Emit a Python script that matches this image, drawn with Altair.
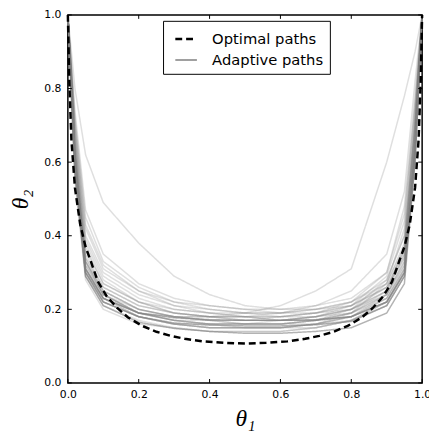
import altair as alt
import pandas as pd

# ---------------- data ----------------
opt_x = [0.0, 0.004, 0.01, 0.02, 0.035, 0.05, 0.065, 0.085, 0.11, 0.14, 0.17, 0.21, 0.25, 0.29, 0.33, 0.38, 0.44, 0.5,
         0.56, 0.62, 0.67, 0.71, 0.75, 0.79, 0.83, 0.86, 0.89, 0.915, 0.935, 0.95, 0.965, 0.98, 0.99, 0.996, 1.0]
opt_y = [1.0, 0.82, 0.66, 0.53, 0.43, 0.37, 0.33, 0.275, 0.235, 0.203, 0.178, 0.155, 0.139, 0.128, 0.12, 0.113, 0.109, 0.107,
         0.109, 0.113, 0.12, 0.128, 0.139, 0.155, 0.178, 0.203, 0.235, 0.275, 0.33, 0.37, 0.43, 0.53, 0.66, 0.82, 1.0]

grid_x = [0.0, 0.02, 0.05, 0.1, 0.2, 0.3, 0.4, 0.5, 0.6, 0.7, 0.8, 0.9, 0.95, 0.98, 1.0]

light_paths = [
    [1, .80, .62, .49, .38, .29, .24, .21, .20, .20, .21, .26, .36, .70, 1],
    [1, .62, .33, .24, .19, .18, .18, .19, .21, .25, .31, .60, .78, .90, 1],
    [1, .70, .42, .31, .25, .22, .21, .20, .20, .21, .23, .30, .46, .76, 1],
    [1, .66, .37, .27, .22, .20, .19, .19, .19, .20, .22, .28, .40, .70, 1],
    [1, .60, .31, .24, .19, .17, .16, .16, .16, .17, .19, .24, .33, .65, 1],
    [1, .64, .34, .26, .21, .19, .18, .17, .17, .18, .20, .25, .35, .68, 1],
    [1, .58, .30, .22, .18, .16, .15, .15, .15, .16, .18, .23, .31, .62, 1],
    [1, .68, .39, .29, .23, .20, .19, .18, .18, .19, .21, .27, .38, .72, 1],
    [1, .63, .33, .25, .20, .18, .17, .17, .18, .19, .21, .26, .34, .66, 1],
    [1, .56, .29, .21, .17, .15, .14, .14, .14, .15, .17, .22, .30, .60, 1],
    [1, .72, .45, .33, .26, .22, .20, .19, .18, .18, .19, .24, .33, .66, 1],
    [1, .61, .32, .24, .20, .18, .17, .16, .16, .17, .19, .25, .37, .70, 1],
    [1, .65, .35, .26, .21, .19, .18, .18, .17, .17, .18, .22, .30, .63, 1],
    [1, .59, .30, .23, .19, .17, .16, .15, .15, .16, .18, .24, .34, .67, 1],
    [1, .67, .38, .28, .22, .19, .18, .17, .17, .18, .21, .29, .44, .75, 1],
    [1, .62, .32, .24, .19, .17, .17, .17, .17, .18, .20, .26, .36, .69, 1],
    [1, .57, .29, .22, .18, .16, .15, .15, .15, .16, .19, .27, .42, .74, 1],
    [1, .74, .47, .35, .27, .23, .21, .20, .19, .19, .20, .24, .32, .64, 1],
    [1, .60, .31, .23, .19, .17, .16, .16, .17, .18, .20, .25, .35, .68, 1],
    [1, .69, .40, .30, .24, .21, .20, .19, .19, .20, .22, .27, .37, .70, 1],
    [1, .63, .33, .25, .20, .18, .17, .16, .16, .16, .17, .21, .29, .61, 1],
    [1, .58, .30, .22, .18, .16, .16, .16, .16, .17, .19, .23, .32, .64, 1],
    [1, .66, .36, .27, .22, .19, .18, .18, .18, .19, .22, .30, .48, .78, 1],
    [1, .61, .31, .23, .18, .16, .15, .15, .15, .15, .17, .22, .31, .63, 1],
    [1, .64, .34, .25, .20, .18, .17, .17, .17, .17, .18, .23, .31, .64, 1],
    [1, .55, .28, .20, .16, .15, .14, .14, .14, .15, .17, .21, .29, .60, 1],
    [1, .71, .43, .32, .25, .21, .19, .18, .17, .17, .18, .22, .30, .62, 1],
    [1, .60, .30, .23, .19, .18, .18, .18, .19, .21, .25, .35, .52, .82, 1],
    [1, .62, .33, .24, .19, .17, .16, .16, .16, .17, .20, .28, .40, .72, 1],
    [1, .59, .31, .23, .18, .16, .15, .15, .15, .16, .18, .22, .30, .62, 1],
]

dark_paths = [
    [1, .57, .29, .21, .165, .148, .14, .135, .135, .14, .15, .19, .27, .60, 1],
    [1, .60, .30, .22, .18, .163, .157, .155, .155, .158, .167, .21, .29, .63, 1],
    [1, .62, .31, .23, .19, .177, .172, .17, .17, .172, .18, .22, .30, .64, 1],
]

series_names = ["Optimal paths", "Adaptive paths"]
tick_vals = [0.0, 0.2, 0.4, 0.6, 0.8, 1.0]

# ---------------- tables ----------------
rows = []
for i, ys in enumerate(light_paths):
    for xv, yv in zip(grid_x, ys):
        rows.append({"x": xv, "y": yv, "path": f"a{i}", "series": "Adaptive paths", "op": 0.25})
for i, ys in enumerate(dark_paths):
    for xv, yv in zip(grid_x, ys):
        rows.append({"x": xv, "y": yv, "path": f"d{i}", "series": "Adaptive paths", "op": 0.6})
adaptive_df = pd.DataFrame(rows)
optimal_df = pd.DataFrame({"x": opt_x, "y": opt_y, "path": "opt", "series": "Optimal paths", "op": 1.0})
ticks_df = pd.DataFrame({"x": tick_vals, "y": tick_vals})

W, H = 361, 375
XT = "θ₁"
YT = "θ₂"

xscale = alt.Scale(domain=[0, 1], nice=False, zero=False)
yscale = alt.Scale(domain=[0, 1], nice=False, zero=False)

x_axis = alt.Axis(values=tick_vals, format=".1f", ticks=False, domain=False, grid=False,
                  labelPadding=6, labelFlush=False, labelOverlap=False, labelBound=False,
                  labelFont="DejaVu Sans", labelFontSize=11, labelColor="black",
                  titleFont="Liberation Serif", titleFontSize=24, titleFontStyle="italic",
                  titleFontWeight="normal", titleColor="black", titlePadding=7)
y_axis = alt.Axis(values=tick_vals, format=".1f", ticks=False, domain=False, grid=False,
                  labelPadding=7, labelFlush=False, labelOverlap=False, labelBound=False,
                  labelFont="DejaVu Sans", labelFontSize=11, labelColor="black",
                  titleFont="Liberation Serif", titleFontSize=24, titleFontStyle="italic",
                  titleFontWeight="normal", titleColor="black", titlePadding=12)

color = alt.Color("series:N", scale=alt.Scale(domain=series_names, range=["black", "gray"]),
                  legend=alt.Legend(title=None, orient="none", legendX=97, legendY=6,
                                    strokeColor="black", fillColor="white", cornerRadius=0,
                                    padding=6, labelFont="DejaVu Sans", labelFontSize=15,
                                    labelColor="black", symbolType="stroke", symbolSize=484,
                                    symbolOffset=5, labelOffset=14, rowPadding=1))
dash = alt.StrokeDash("series:N", scale=alt.Scale(domain=series_names, range=[[7, 4], [1, 0]]))
width = alt.StrokeWidth("series:N", scale=alt.Scale(domain=series_names, range=[2.5, 1.5]))

adaptive = alt.Chart(adaptive_df).mark_line().encode(
    x=alt.X("x:Q", scale=xscale, axis=x_axis, title=XT),
    y=alt.Y("y:Q", scale=yscale, axis=y_axis, title=YT),
    detail="path:N",
    color=color,
    strokeDash=dash,
    strokeWidth=width,
    opacity=alt.Opacity("op:Q", scale=None),
)

optimal = alt.Chart(optimal_df).mark_line().encode(
    x=alt.X("x:Q", scale=xscale, title=XT),
    y=alt.Y("y:Q", scale=yscale, title=YT),
    detail="path:N",
    color=color,
    strokeDash=dash,
    strokeWidth=width,
    opacity=alt.Opacity("op:Q", scale=None),
)

tl = 4
t_bottom = alt.Chart(ticks_df).mark_rule(color="black").encode(
    x=alt.X("x:Q", scale=xscale, title=XT), y=alt.value(H), y2=alt.value(H - tl))
t_top = alt.Chart(ticks_df).mark_rule(color="black").encode(
    x=alt.X("x:Q", scale=xscale, title=XT), y=alt.value(0), y2=alt.value(tl))
t_left = alt.Chart(ticks_df).mark_rule(color="black").encode(
    y=alt.Y("y:Q", scale=yscale, title=YT), x=alt.value(0), x2=alt.value(tl))
t_right = alt.Chart(ticks_df).mark_rule(color="black").encode(
    y=alt.Y("y:Q", scale=yscale, title=YT), x=alt.value(W), x2=alt.value(W - tl))

chart = alt.layer(adaptive, optimal, t_bottom, t_top, t_left, t_right).properties(
    width=W, height=H,
    background="white",
    padding={"left": 61, "top": 3, "right": 7, "bottom": 50},
    autosize=alt.AutoSizeParams(type="none"),
).configure_view(stroke="black", strokeWidth=1.5)

chart.save("out.html", embed_options={"renderer": "svg", "actions": False})
